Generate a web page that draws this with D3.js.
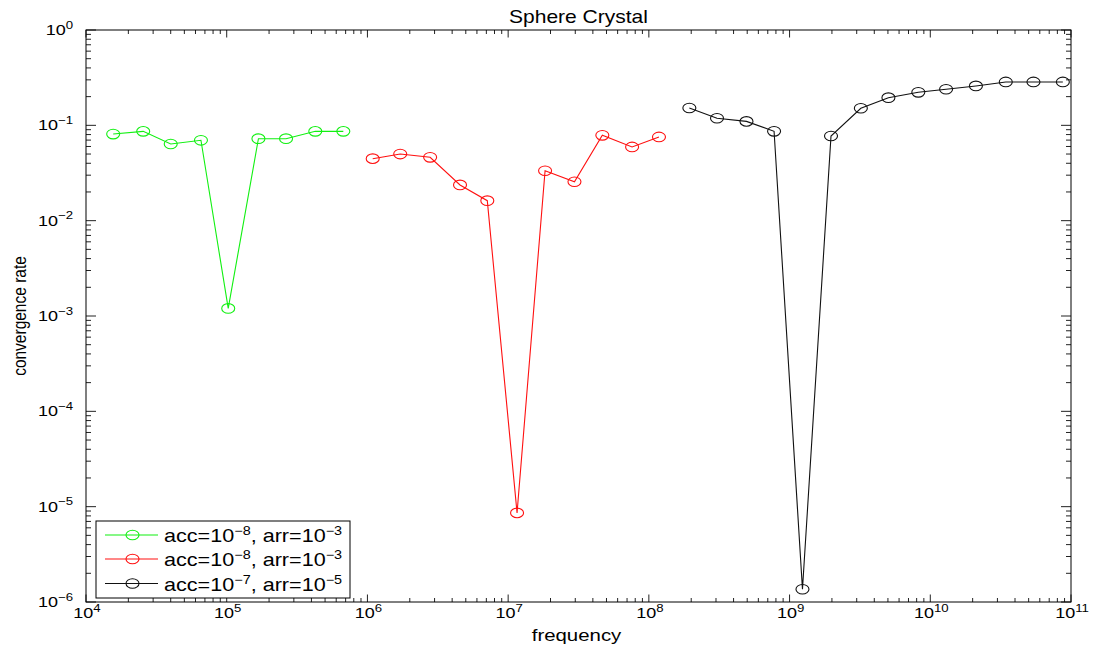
<!DOCTYPE html>
<html>
<head>
<meta charset="utf-8">
<script src="https://cdn.jsdelivr.net/npm/d3@7"></script>
<style>
  html, body { margin: 0; padding: 0; background: #fff; }
  svg { display: block; }
  text { font-family: "Liberation Sans", Arial, Helvetica, sans-serif; fill: #000; }
</style>
</head>
<body>
<svg id="chart" width="1098" height="646"></svg>
<script>
// Convergence rate versus frequency, three solver settings
const greenFreq = [15600, 25500, 40000, 65600, 102500, 168000, 264000, 426000, 674000];
const greenRate = [0.081, 0.0865, 0.0637, 0.0697, 0.0012, 0.0724, 0.0724, 0.0865, 0.0865];

const redFreq = [1.09e6, 1.71e6, 2.79e6, 4.55e6, 7.11e6, 1.157e7, 1.83e7, 2.96e7, 4.67e7, 7.6e7, 1.18e8];
const redRate = [0.0447, 0.050, 0.0462, 0.0237, 0.0162, 8.6e-6, 0.0334, 0.0256, 0.0786, 0.0593, 0.0755];

const blackFreq = [1.94e8, 3.05e8, 4.94e8, 7.76e8, 1.235e9, 1.97e9, 3.21e9, 5.04e9, 8.22e9,
                   1.295e10, 2.11e10, 3.44e10, 5.41e10, 8.75e10];
const blackRate = [0.152, 0.1186, 0.110, 0.0866, 1.36e-6, 0.0773, 0.151, 0.195, 0.222,
                   0.239, 0.259, 0.285, 0.285, 0.285];

// legend entries: [acc exponent, arr exponent]
const legendExp = [["−8", "−3"], ["−8", "−3"], ["−7", "−5"]];
const seriesColors = ["#11f011", "#ff1010", "#111111"];

const xDecades = [4, 5, 6, 7, 8, 9, 10, 11];
const yDecades = [-6, -5, -4, -3, -2, -1, 0];

const titleText = "Sphere Crystal";
const xLabelText = "frequency";
const yLabelText = "convergence rate";

// ---------------------------------------------------------------
const svg = d3.select("#chart");
const plotL = 86, plotR = 1071, plotT = 30, plotB = 602;
const sx = 1.2; // horizontal glyph stretch

const x = d3.scaleLog().domain([1e4, 1e11]).range([plotL, plotR]);
const y = d3.scaleLog().domain([1e-6, 1]).range([plotB, plotT]);

const series = [
  { f: greenFreq, r: greenRate },
  { f: redFreq, r: redRate },
  { f: blackFreq, r: blackRate }
].map((s, i) => ({ color: seriesColors[i], pts: s.f.map((f, j) => [f, s.r[j]]) }));

// stretched text helper
function stext(g, px, py, anchor, size) {
  return g.append("g")
    .attr("transform", `translate(${px},${py}) scale(${sx},1)`)
    .append("text")
    .attr("text-anchor", anchor)
    .attr("font-size", size);
}
function powerLabel(t, base, exp, supSize, dy) {
  t.append("tspan").text(base);
  t.append("tspan").attr("font-size", supSize).attr("dy", -dy).text(exp);
}

// ticks (inside, on all four sides)
const ticks = svg.append("g").attr("stroke", "#222").attr("stroke-width", 1);
function minorValues(decades) {
  const out = [];
  for (let i = 0; i < decades.length - 1; i++)
    for (let k = 2; k <= 9; k++) out.push(k * Math.pow(10, decades[i]));
  return out;
}
const xMajor = xDecades.map(d => Math.pow(10, d));
const yMajor = yDecades.map(d => Math.pow(10, d));
const xMinor = minorValues(xDecades);
const yMinor = minorValues(yDecades);

[[xMajor, 7.5], [xMinor, 4]].forEach(([vals, len]) => {
  vals.forEach(v => {
    const px = x(v);
    ticks.append("line").attr("x1", px).attr("x2", px).attr("y1", plotB).attr("y2", plotB - len);
    ticks.append("line").attr("x1", px).attr("x2", px).attr("y1", plotT).attr("y2", plotT + len);
  });
});
[[yMajor, 10], [yMinor, 5]].forEach(([vals, len]) => {
  vals.forEach(v => {
    const py = y(v);
    ticks.append("line").attr("x1", plotL).attr("x2", plotL + len).attr("y1", py).attr("y2", py);
    ticks.append("line").attr("x1", plotR).attr("x2", plotR - len).attr("y1", py).attr("y2", py);
  });
});

// axes box
svg.append("rect")
  .attr("x", plotL).attr("y", plotT)
  .attr("width", plotR - plotL).attr("height", plotB - plotT)
  .attr("fill", "none").attr("stroke", "#000").attr("stroke-width", 1);

// tick labels
xDecades.forEach(d => {
  const t = stext(svg, x(Math.pow(10, d)) + 1, 618, "middle", 15);
  powerLabel(t, "10", String(d), 11, 6.5);
});
yDecades.forEach(d => {
  const t = stext(svg, 73, y(Math.pow(10, d)) + 5, "end", 15);
  powerLabel(t, "10", d < 0 ? "−" + Math.abs(d) : String(d), 11, 6.5);
});

// title and axis labels
stext(svg, (plotL + plotR) / 2, 23, "middle", 17.5).text(titleText);
stext(svg, (plotL + plotR) / 2 - 2, 641, "middle", 17).text(xLabelText);
svg.append("g")
  .attr("transform", `translate(26,${(plotT + plotB) / 2}) scale(${sx},1) rotate(-90)`)
  .append("text").attr("text-anchor", "middle").attr("font-size", 15.5)
  .text(yLabelText);

// series lines and hollow markers
const line = d3.line().x(d => x(d[0])).y(d => y(d[1]));
const plot = svg.append("g");
series.forEach(s => {
  plot.append("path").datum(s.pts)
    .attr("d", line)
    .attr("fill", "none").attr("stroke", s.color).attr("stroke-width", 1.1);
  plot.selectAll(null).data(s.pts).enter().append("ellipse")
    .attr("cx", d => x(d[0])).attr("cy", d => y(d[1]))
    .attr("rx", 6.5).attr("ry", 4.8)
    .attr("fill", "none").attr("stroke", s.color).attr("stroke-width", 1.1);
});

// legend
const lg = svg.append("g");
lg.append("rect").attr("x", 96).attr("y", 521).attr("width", 254).attr("height", 77)
  .attr("fill", "#fff").attr("stroke", "#000").attr("stroke-width", 1);
const rowsY = [535, 559, 583.5];
legendExp.forEach((e, i) => {
  const ry = rowsY[i];
  lg.append("line").attr("x1", 105).attr("x2", 158).attr("y1", ry).attr("y2", ry)
    .attr("stroke", seriesColors[i]).attr("stroke-width", 1.1);
  lg.append("ellipse").attr("cx", 132.5).attr("cy", ry).attr("rx", 6.5).attr("ry", 4.8)
    .attr("fill", "none").attr("stroke", seriesColors[i]).attr("stroke-width", 1.1);
  const t = stext(lg, 164, ry + 7, "start", 18);
  t.append("tspan").text("acc=10");
  t.append("tspan").attr("font-size", 12).attr("dy", -7).text(e[0]);
  t.append("tspan").attr("dy", 7).text(", arr=10");
  t.append("tspan").attr("font-size", 12).attr("dy", -7).text(e[1]);
});
</script>
</body>
</html>
